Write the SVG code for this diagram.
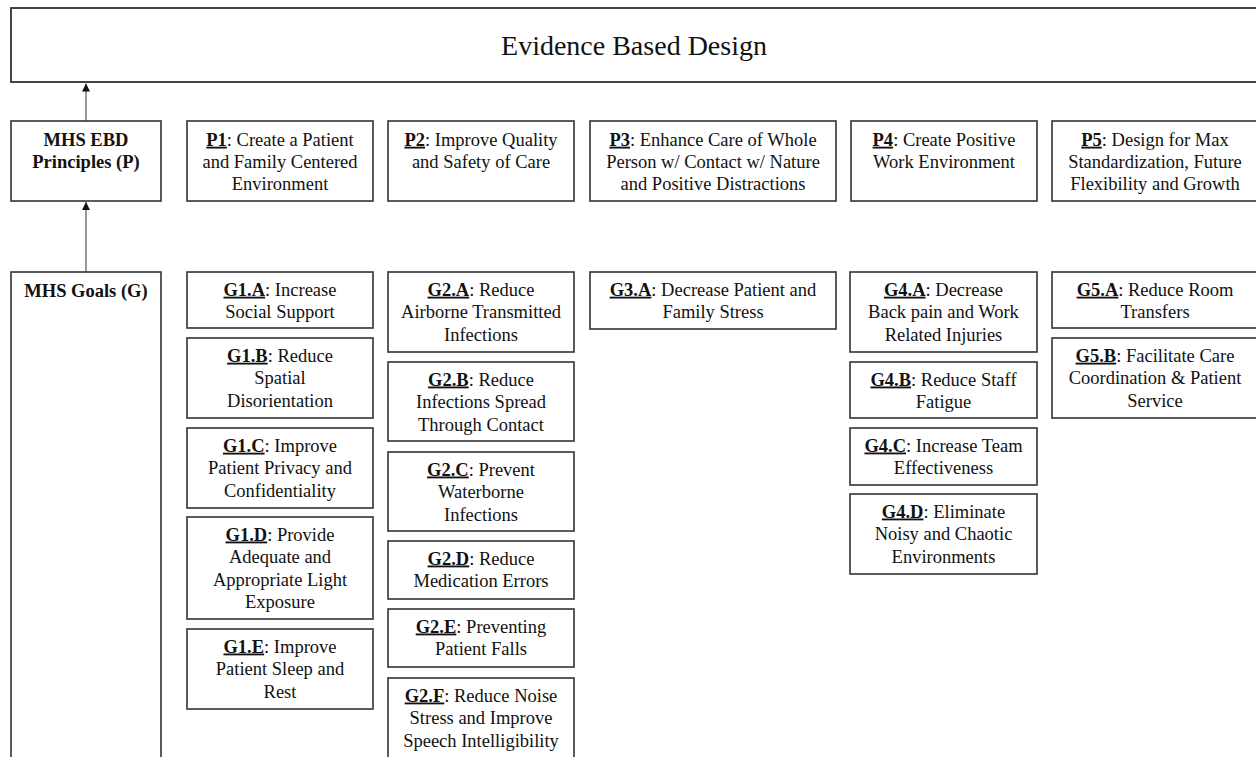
<svg xmlns="http://www.w3.org/2000/svg" width="1256" height="757" viewBox="0 0 1256 757">
<style>
  .box { fill: #ffffff; stroke: #333333; stroke-width: 1.6; }
  .top { fill: #ffffff; stroke: #444444; stroke-width: 2; }
  text { font-family: "Liberation Serif", "Times New Roman", serif; font-size: 18.5px; fill: #111111; text-anchor: middle; }
  .title { font-size: 28px; }
  .hd { font-weight: bold; }
  .lbl { font-weight: bold; text-decoration: underline; }
  .conn { stroke: #555555; stroke-width: 1.2; fill: none; }
</style>
<defs>
  <marker id="arr" viewBox="0 0 10 10" refX="10" refY="5" markerWidth="8" markerHeight="9" markerUnits="userSpaceOnUse" orient="auto">
    <path d="M0,0 L10,5 L0,10 Z" fill="#111111"/>
  </marker>
</defs>
<rect width="1256" height="757" fill="#ffffff"/>

<g id="connectors">
  <line class="conn" x1="86" y1="121" x2="86" y2="83.5" marker-end="url(#arr)"/>
  <line class="conn" x1="86" y1="272" x2="86" y2="202" marker-end="url(#arr)"/>
</g>

<g id="ebd">
  <rect class="top" x="11" y="8" width="1247" height="74"/>
  <text class="title" x="634" y="55">Evidence Based Design</text>
</g>

<g id="principles">
  <rect class="box" x="11" y="121" width="150" height="80"/>
  <text class="hd" x="86" y="145.7">MHS EBD</text>
  <text class="hd" x="86" y="167.7">Principles (P)</text>
</g>
<g id="p1">
  <rect class="box" x="187" y="121" width="186" height="80"/>
  <text x="280" y="145.7"><tspan class="lbl">P1</tspan>: Create a Patient</text>
  <text x="280" y="167.7">and Family Centered</text>
  <text x="280" y="189.5">Environment</text>
</g>
<g id="p2">
  <rect class="box" x="388" y="121" width="186" height="80"/>
  <text x="481" y="145.7"><tspan class="lbl">P2</tspan>: Improve Quality</text>
  <text x="481" y="167.7">and Safety of Care</text>
</g>
<g id="p3">
  <rect class="box" x="590" y="121" width="246" height="80"/>
  <text x="713" y="145.7"><tspan class="lbl">P3</tspan>: Enhance Care of Whole</text>
  <text x="713" y="167.7">Person w/ Contact w/ Nature</text>
  <text x="713" y="189.5">and Positive Distractions</text>
</g>
<g id="p4">
  <rect class="box" x="851" y="121" width="186" height="80"/>
  <text x="944" y="145.7"><tspan class="lbl">P4</tspan>: Create Positive</text>
  <text x="944" y="167.7">Work Environment</text>
</g>
<g id="p5">
  <rect class="box" x="1052" y="121" width="205" height="80"/>
  <text x="1155" y="145.7"><tspan class="lbl">P5</tspan>: Design for Max</text>
  <text x="1155" y="167.7">Standardization, Future</text>
  <text x="1155" y="189.5">Flexibility and Growth</text>
</g>

<g id="goals">
  <rect class="box" x="11" y="272" width="150" height="500"/>
  <text class="hd" x="86" y="296.5">MHS Goals (G)</text>
</g>

<g id="g1a">
  <rect class="box" x="187" y="272" width="186" height="56"/>
  <text x="280" y="295.7"><tspan class="lbl">G1.A</tspan>: Increase</text>
  <text x="280" y="318.2">Social Support</text>
</g>
<g id="g1b">
  <rect class="box" x="187" y="338" width="186" height="80"/>
  <text x="280" y="361.7"><tspan class="lbl">G1.B</tspan>: Reduce</text>
  <text x="280" y="384.2">Spatial</text>
  <text x="280" y="406.7">Disorientation</text>
</g>
<g id="g1c">
  <rect class="box" x="187" y="428" width="186" height="80"/>
  <text x="280" y="451.7"><tspan class="lbl">G1.C</tspan>: Improve</text>
  <text x="280" y="474.2">Patient Privacy and</text>
  <text x="280" y="496.7">Confidentiality</text>
</g>
<g id="g1d">
  <rect class="box" x="187" y="517" width="186" height="102"/>
  <text x="280" y="540.5"><tspan class="lbl">G1.D</tspan>: Provide</text>
  <text x="280" y="563">Adequate and</text>
  <text x="280" y="585.5">Appropriate Light</text>
  <text x="280" y="608">Exposure</text>
</g>
<g id="g1e">
  <rect class="box" x="187" y="629" width="186" height="80"/>
  <text x="280" y="652.5"><tspan class="lbl">G1.E</tspan>: Improve</text>
  <text x="280" y="675">Patient Sleep and</text>
  <text x="280" y="697.5">Rest</text>
</g>

<g id="g2a">
  <rect class="box" x="388" y="272" width="186" height="80"/>
  <text x="481" y="295.7"><tspan class="lbl">G2.A</tspan>: Reduce</text>
  <text x="481" y="318.2">Airborne Transmitted</text>
  <text x="481" y="340.7">Infections</text>
</g>
<g id="g2b">
  <rect class="box" x="388" y="362" width="186" height="79"/>
  <text x="481" y="385.5"><tspan class="lbl">G2.B</tspan>: Reduce</text>
  <text x="481" y="408">Infections Spread</text>
  <text x="481" y="430.5">Through Contact</text>
</g>
<g id="g2c">
  <rect class="box" x="388" y="452" width="186" height="79"/>
  <text x="481" y="475.5"><tspan class="lbl">G2.C</tspan>: Prevent</text>
  <text x="481" y="498">Waterborne</text>
  <text x="481" y="520.5">Infections</text>
</g>
<g id="g2d">
  <rect class="box" x="388" y="541" width="186" height="58"/>
  <text x="481" y="564.5"><tspan class="lbl">G2.D</tspan>: Reduce</text>
  <text x="481" y="587">Medication Errors</text>
</g>
<g id="g2e">
  <rect class="box" x="388" y="609" width="186" height="58"/>
  <text x="481" y="632.5"><tspan class="lbl">G2.E</tspan>: Preventing</text>
  <text x="481" y="655">Patient Falls</text>
</g>
<g id="g2f">
  <rect class="box" x="388" y="678" width="186" height="100"/>
  <text x="481" y="701.5"><tspan class="lbl">G2.F</tspan>: Reduce Noise</text>
  <text x="481" y="724">Stress and Improve</text>
  <text x="481" y="746.5">Speech Intelligibility</text>
</g>

<g id="g3a">
  <rect class="box" x="590" y="272" width="246" height="57"/>
  <text x="713" y="295.7"><tspan class="lbl">G3.A</tspan>: Decrease Patient and</text>
  <text x="713" y="318.2">Family Stress</text>
</g>

<g id="g4a">
  <rect class="box" x="850" y="272" width="187" height="80"/>
  <text x="943.5" y="295.7"><tspan class="lbl">G4.A</tspan>: Decrease</text>
  <text x="943.5" y="318.2">Back pain and Work</text>
  <text x="943.5" y="340.7">Related Injuries</text>
</g>
<g id="g4b">
  <rect class="box" x="850" y="362" width="187" height="56"/>
  <text x="943.5" y="385.5"><tspan class="lbl">G4.B</tspan>: Reduce Staff</text>
  <text x="943.5" y="408">Fatigue</text>
</g>
<g id="g4c">
  <rect class="box" x="850" y="428" width="187" height="57"/>
  <text x="943.5" y="451.5"><tspan class="lbl">G4.C</tspan>: Increase Team</text>
  <text x="943.5" y="474">Effectiveness</text>
</g>
<g id="g4d">
  <rect class="box" x="850" y="494" width="187" height="80"/>
  <text x="943.5" y="517.5"><tspan class="lbl">G4.D</tspan>: Eliminate</text>
  <text x="943.5" y="540">Noisy and Chaotic</text>
  <text x="943.5" y="562.5">Environments</text>
</g>

<g id="g5a">
  <rect class="box" x="1052" y="272" width="205" height="56"/>
  <text x="1155" y="295.7"><tspan class="lbl">G5.A</tspan>: Reduce Room</text>
  <text x="1155" y="318.2">Transfers</text>
</g>
<g id="g5b">
  <rect class="box" x="1052" y="338" width="205" height="80"/>
  <text x="1155" y="361.7"><tspan class="lbl">G5.B</tspan>: Facilitate Care</text>
  <text x="1155" y="384.2">Coordination &amp; Patient</text>
  <text x="1155" y="406.7">Service</text>
</g>
</svg>
